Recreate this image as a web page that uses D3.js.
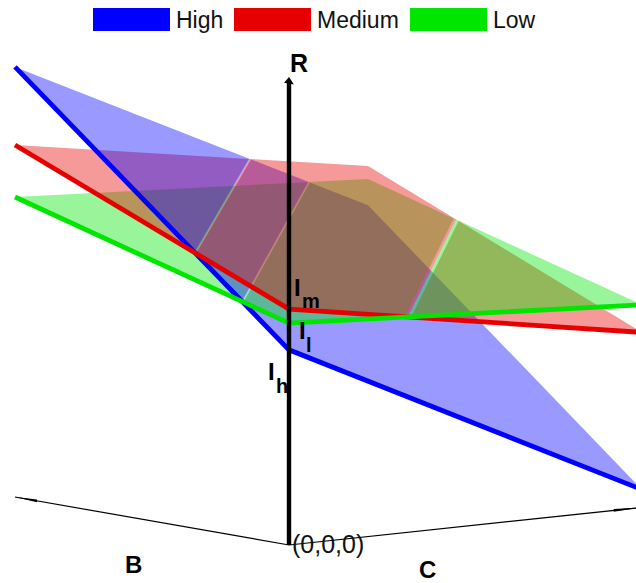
<!DOCTYPE html>
<html>
<head>
<meta charset="utf-8">
<script src="https://cdn.jsdelivr.net/npm/d3@7"></script>
<style>
    html, body { margin: 0; padding: 0; background: #fff; }
    svg { display: block; font-family: "Liberation Sans", Arial, sans-serif; }
</style>
</head>
<body>
<div id="chart"></div>
<script>
//Series names and colors
var categories = ["High", "Medium", "Low"];
var seriesColors = ["#0000ff", "#e60000", "#00e600"];

//R value of each surface at its corners: (B,C) = (0,0), (1,0), (1,1), (0,1)
var highCorners = [0.417, 0.919, 0.543, 0.038];
var mediumCorners = [0.504, 0.752, 0.627, 0.374];
var lowCorners = [0.474, 0.641, 0.599, 0.433];

var axisNames = ["B", "C", "R"];
var originLabel = "(0,0,0)";

var width = 636, height = 583;
var surfaces = {High: highCorners, Medium: mediumCorners, Low: lowCorners};

//Each axis moves the point on the screen, so x and y are the sum of the scales
var bToX = d3.scaleLinear().domain([0, 1]).range([0, -274]);
var cToX = d3.scaleLinear().domain([0, 1]).range([0, 353]);
var bToY = d3.scaleLinear().domain([0, 1]).range([0, -48]);
var cToY = d3.scaleLinear().domain([0, 1]).range([0, -37.6]);
var rToY = d3.scaleLinear().domain([0, 1]).range([0, -468]);
var originX = 289, originY = 545;

function project(b, c, r) {
    return [originX + bToX(b) + cToX(c), originY + bToY(b) + cToY(c) + rToY(r)];
}

//R of a surface inside its corners
function surfaceR(corners, b, c) {
    return corners[0] * (1 - b) * (1 - c) + corners[1] * b * (1 - c) + corners[2] * b * c + corners[3] * (1 - b) * c;
}

/*
    The outline of the B,C square is walked with one number s:
    0 to 1 along C=0, 1 to 2 along B=1, 2 to 3 along C=1, 3 to 4 along B=0
*/
function outlinePoint(s) {
    s = (s + 4) % 4;
    if (s < 1) return [s, 0];
    if (s < 2) return [1, s - 1];
    if (s < 3) return [3 - s, 1];
    return [0, 4 - s];
}

function arc(from, to) {
    var points = [outlinePoint(from)];
    for (var s = Math.floor(from) + 1; s < to; s++) {
        points.push(outlinePoint(s));
    }
    points.push(outlinePoint(to));
    return points;
}

//Where two surfaces cross on the outline. a is before the corner (1,0), b is after it
function findSeam(innerTop, outerTop, gap) {
    var p = surfaces[innerTop], q = surfaces[outerTop], crossings = [];
    for (var k = 0; k < 4; k++) {
        var d0 = p[k] - q[k], d1 = p[(k + 1) % 4] - q[(k + 1) % 4];
        if (d0 * d1 < 0) crossings.push(k + d0 / (d0 - d1));
    }
    if (crossings[0] > 1) return {a: crossings[1] - 4, b: crossings[0], innerTop: innerTop, gap: gap};
    return {a: crossings[0], b: crossings[1], innerTop: innerTop, gap: gap};
}

var seamHighMedium = findSeam("High", "Medium", 0.003);
var seamHighLow = findSeam("High", "Low", 0.003);
var seamMediumLow = findSeam("Medium", "Low", 0.009);

//Every surface is cut at its own two seams. The layer says who is painted over who
var pieces = [
    {name: "High", inner: null, outer: seamHighMedium, layer: 2},
    {name: "High", inner: seamHighMedium, outer: seamHighLow, layer: 1},
    {name: "High", inner: seamHighLow, outer: null, layer: 0},
    {name: "Medium", inner: null, outer: seamHighMedium, layer: 1},
    {name: "Medium", inner: seamHighMedium, outer: seamMediumLow, layer: 2},
    {name: "Medium", inner: seamMediumLow, outer: null, layer: 1},
    {name: "Low", inner: null, outer: seamHighLow, layer: 0},
    {name: "Low", inner: seamHighLow, outer: seamMediumLow, layer: 1},
    {name: "Low", inner: seamMediumLow, outer: null, layer: 2}
];

//Leaves the thin light band seen along each seam
function shift(seam, name, pieceIsInner) {
    if (seam.innerTop === name) return pieceIsInner ? 0 : seam.gap;
    return pieceIsInner ? -seam.gap : 0;
}

function piecePoints(piece) {
    var points;
    if (!piece.inner) {
        var o = shift(piece.outer, piece.name, true);
        points = arc(piece.outer.a - o, piece.outer.b + o);
    } else if (!piece.outer) {
        var i = shift(piece.inner, piece.name, false);
        points = arc(piece.inner.b + i, piece.inner.a - i + 4);
    } else {
        var oo = shift(piece.outer, piece.name, true), ii = shift(piece.inner, piece.name, false);
        points = arc(piece.outer.a - oo, piece.inner.a - ii).concat(arc(piece.inner.b + ii, piece.outer.b + oo));
    }
    return points.map(function(p) {
        return project(p[0], p[1], surfaceR(surfaces[piece.name], p[0], p[1]));
    });
}

var svg = d3.select("#chart").append("svg")
    .attr("width", width)
    .attr("height", height);

var polygon = d3.line().curve(d3.curveLinearClosed);
var polyline = d3.line();

//Surfaces, lowest layer first
svg.append("g").selectAll("path")
    .data(pieces.slice().sort(function(a, b) { return a.layer - b.layer; }))
    .enter().append("path")
    .attr("d", function(d) { return polygon(piecePoints(d)); })
    .attr("fill", function(d) { return seriesColors[categories.indexOf(d.name)]; })
    .attr("fill-opacity", 0.4);

//The edges standing on the B and C axes
svg.append("g").selectAll("path")
    .data(categories)
    .enter().append("path")
    .attr("d", function(d) {
        var corners = surfaces[d];
        return polyline([project(1, 0, corners[1]), project(0, 0, corners[0]), project(0, 1, corners[3])]);
    })
    .attr("fill", "none")
    .attr("stroke", function(d, i) { return seriesColors[i]; })
    .attr("stroke-width", 4.8);

//B and C axes with their flat arrow heads
svg.append("path")
    .attr("d", polyline([project(1, 0, 0), project(0, 0, 0), project(0, 1, 0)]))
    .attr("fill", "none")
    .attr("stroke", "#000")
    .attr("stroke-width", 1.2);
svg.append("path")
    .attr("d", polygon([project(1, 0, 0), project(0.92, 0, 0.003), project(0.92, 0, -0.003)]))
    .attr("fill", "#000");
svg.append("path")
    .attr("d", polygon([project(0, 1, 0), project(0, 0.92, 0.003), project(0, 0.92, -0.003)]))
    .attr("fill", "#000");

//R axis on top of everything
svg.append("path")
    .attr("d", polyline([project(0, 0, 0), project(0, 0, 0.99)]))
    .attr("stroke", "#000")
    .attr("stroke-width", 4.4);
svg.append("path")
    .attr("d", polygon([project(0, 0, 1), project(0.018, 0, 0.986), project(-0.018, 0, 0.986)]))
    .attr("fill", "#000");

//Legend
var legendX = [93, 234, 410];
var legend = svg.append("g").selectAll("g")
    .data(categories)
    .enter().append("g")
    .attr("transform", function(d, i) { return "translate(" + legendX[i] + ",8)"; });
legend.append("rect")
    .attr("width", 77)
    .attr("height", 23)
    .attr("fill", function(d, i) { return seriesColors[i]; });
legend.append("text")
    .attr("x", 83)
    .attr("y", 20)
    .attr("font-size", 23)
    .attr("fill", "#111")
    .text(function(d) { return d; });

//Axis names and intercept labels
var boldLabels = [
    {text: axisNames[0], x: 125, y: 573, size: 24},
    {text: axisNames[1], x: 419, y: 578, size: 24},
    {text: axisNames[2], x: 290, y: 72, size: 25},
    {text: "I", x: 294, y: 296, size: 24},
    {text: "m", x: 302, y: 308, size: 20},
    {text: "I", x: 299, y: 339, size: 24},
    {text: "l", x: 306, y: 352, size: 20},
    {text: "I", x: 268, y: 380, size: 24},
    {text: "h", x: 276, y: 393, size: 20}
];
svg.append("g").selectAll("text")
    .data(boldLabels)
    .enter().append("text")
    .attr("x", function(d) { return d.x; })
    .attr("y", function(d) { return d.y; })
    .attr("font-size", function(d) { return d.size; })
    .attr("font-weight", "bold")
    .text(function(d) { return d.text; });

svg.append("text")
    .attr("x", 292)
    .attr("y", 553)
    .attr("font-size", 25)
    .attr("fill", "#111")
    .text(originLabel);
</script>
</body>
</html>
